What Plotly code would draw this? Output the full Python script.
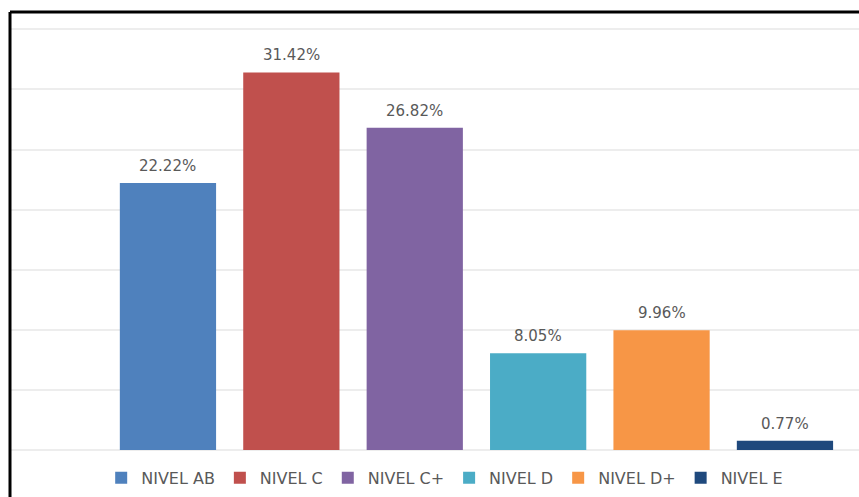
import plotly.graph_objects as go

# Distribution by socioeconomic level (percent)
niveles = ["NIVEL AB", "NIVEL C", "NIVEL C+", "NIVEL D", "NIVEL D+", "NIVEL E"]
porcentajes = [22.22, 31.42, 26.82, 8.05, 9.96, 0.77]
colores = ["#4F81BD", "#C0504D", "#8064A2", "#4BACC6", "#F79646", "#1F497D"]

TEXT_GREY = "#595959"
GRID = "#ededed"
FONT = "DejaVu Sans"

fig = go.Figure()

# one trace per level so each gets its own legend entry
for nivel, valor, color in zip(niveles, porcentajes, colores):
    fig.add_trace(go.Bar(
        x=[nivel],
        y=[valor],
        name=nivel,
        marker=dict(color=color, line=dict(width=0)),
        hoverinfo="skip",
    ))

# value labels above each bar
for nivel, valor in zip(niveles, porcentajes):
    fig.add_annotation(
        x=nivel, y=valor, text=f"{valor:.2f}%",
        showarrow=False, yanchor="bottom", yshift=6,
        font=dict(family=FONT, size=15, color=TEXT_GREY),
    )

# frame of the chart area (left and top edges)
FRAME_TOP = 1.0355
fig.add_shape(type="line", xref="paper", yref="paper",
              x0=0, x1=0, y0=-0.2, y1=FRAME_TOP,
              line=dict(color="black", width=3))
fig.add_shape(type="line", xref="paper", yref="paper",
              x0=0, x1=1.05, y0=FRAME_TOP, y1=FRAME_TOP,
              line=dict(color="black", width=3))

fig.update_layout(
    width=859, height=497,
    margin=dict(l=10, r=0, t=27, b=47),
    paper_bgcolor="white", plot_bgcolor="white",
    barmode="overlay",
    bargap=0.22,
    showlegend=True,
    legend=dict(
        orientation="h", x=0.512, xanchor="center",
        y=-0.066, yanchor="middle",
        font=dict(family=FONT, size=16, color=TEXT_GREY),
        itemwidth=30, bgcolor="rgba(0,0,0,0)",
        itemclick=False, itemdoubleclick=False,
    ),
    xaxis=dict(
        type="category", categoryorder="array", categoryarray=niveles,
        range=[-1.28, 5.60], showticklabels=False, showgrid=False,
        zeroline=False, showline=False, ticks="",
    ),
    yaxis=dict(
        range=[0, 35.2], tick0=0, dtick=5, showticklabels=False,
        showgrid=True, gridcolor=GRID, gridwidth=2,
        zeroline=True, zerolinecolor=GRID, zerolinewidth=2,
        showline=False, ticks="",
    ),
)

fig.write_html("out.html")
